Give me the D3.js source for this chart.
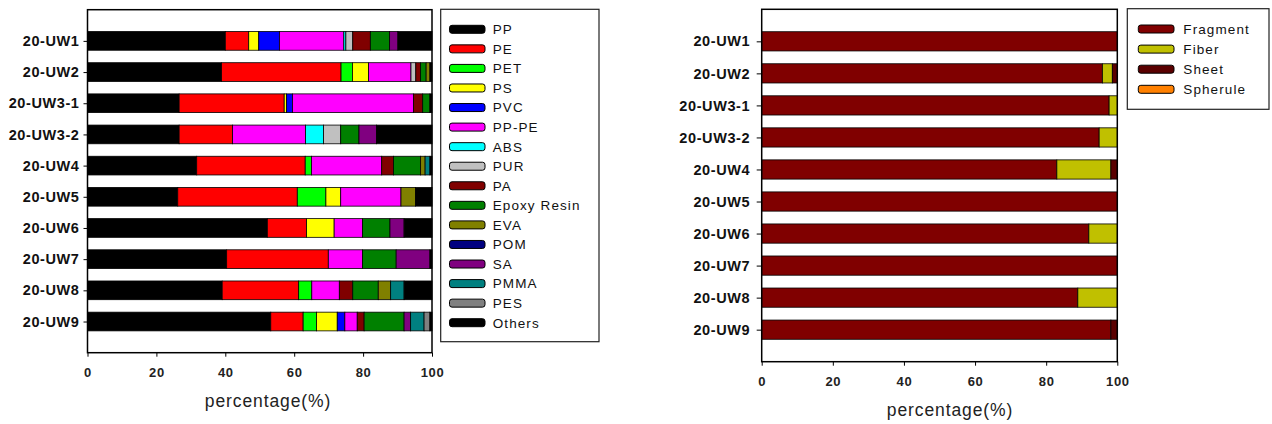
<!DOCTYPE html>
<html>
<head>
<meta charset="utf-8">
<script src="https://cdn.jsdelivr.net/npm/d3@7/dist/d3.min.js"></script>
<style>
  html, body { margin: 0; padding: 0; background: #fff; }
  svg { display: block; font-family: "Liberation Sans", Arial, sans-serif; }
</style>
</head>
<body>
<svg id="chart" width="1272" height="424"></svg>
<script>
// ---------------- DATA ----------------
const samples = ["20-UW1","20-UW2","20-UW3-1","20-UW3-2","20-UW4","20-UW5","20-UW6","20-UW7","20-UW8","20-UW9"];
const xTicks = [0, 20, 40, 60, 80, 100];

// Left chart: polymer composition (%)
const polymerNames = ["PP","PE","PET","PS","PVC","PP-PE","ABS","PUR","PA","Epoxy Resin","EVA","POM","SA","PMMA","PES","Others"];
const polymerColors = ["#000000","#ff0000","#00ff00","#ffff00","#0000ff","#ff00ff","#00ffff","#c0c0c0","#800000","#008000","#808000","#000080","#800080","#008080","#808080","#000000"];
const ppVals     = [40.0, 38.9, 26.6, 26.6, 31.7, 26.2, 52.2, 40.4, 39.1, 53.2];
const peVals     = [ 6.8, 34.7, 30.5, 15.5, 31.5, 34.7, 11.4, 29.5, 22.2,  9.4];
const petVals    = [ 0.0,  3.3,  0.0,  0.0,  1.8,  8.3,  0.0,  0.0,  3.8,  3.9];
const psVals     = [ 2.9,  4.7,  0.7,  0.0,  0.0,  4.3,  8.0,  0.0,  0.0,  6.0];
const pvcVals    = [ 6.0,  0.0,  1.7,  0.0,  0.0,  0.0,  0.0,  0.0,  0.0,  2.2];
const pppeVals   = [18.7, 12.3, 35.1, 21.2, 20.4, 17.5,  8.2,  9.9,  8.0,  3.6];
const absVals    = [ 0.6,  0.0,  0.0,  5.2,  0.0,  0.0,  0.0,  0.0,  0.0,  0.0];
const purVals    = [ 2.0,  1.4,  0.0,  5.0,  0.0,  0.0,  0.0,  0.0,  0.0,  0.0];
const paVals     = [ 5.1,  1.4,  2.7,  0.0,  3.4,  0.0,  0.0,  0.0,  3.9,  2.0];
const epoxyVals  = [ 5.6,  1.6,  2.1,  5.3,  7.9,  0.0,  8.0,  9.8,  7.4, 11.6];
const evaVals    = [ 0.0,  1.1,  0.0,  0.0,  1.3,  4.2,  0.0,  0.0,  3.6,  0.0];
const pomVals    = [ 0.0,  0.0,  0.0,  0.0,  0.0,  0.0,  0.0,  0.0,  0.0,  0.0];
const saVals     = [ 2.4,  0.0,  0.0,  5.1,  0.0,  0.0,  4.1,  9.8,  0.0,  1.9];
const pmmaVals   = [ 0.0,  0.0,  0.0,  0.0,  1.4,  0.0,  0.0,  0.0,  3.9,  3.9];
const pesVals    = [ 0.0,  0.0,  0.0,  0.0,  0.0,  0.0,  0.0,  0.0,  0.0,  1.7];
const othersVals = [ 9.9,  0.6,  0.6, 16.1,  0.6,  4.8,  8.1,  0.6,  8.1,  0.6];

// Right chart: shape composition (%)
const shapeNames = ["Fragment","Fiber","Sheet","Spherule"];
const shapeColors = ["#800000","#c0c000","#5a0000","#ff8000"];
const fragmentVals = [100.0, 95.8, 97.7, 94.9, 83.0, 100.0, 92.0, 100.0, 88.9, 98.2];
const fiberVals    = [  0.0,  2.8,  2.3,  5.1, 15.2,   0.0,  8.0,   0.0, 11.1,  0.0];
const sheetVals    = [  0.0,  1.4,  0.0,  0.0,  1.8,   0.0,  0.0,   0.0,  0.0,  1.8];
const spheruleVals = [  0.0,  0.0,  0.0,  0.0,  0.0,   0.0,  0.0,   0.0,  0.0,  0.0];

// ---------------- BUILD TABLES ----------------
const polymerSeries = [ppVals,peVals,petVals,psVals,pvcVals,pppeVals,absVals,purVals,paVals,epoxyVals,evaVals,pomVals,saVals,pmmaVals,pesVals,othersVals];
const shapeSeries = [fragmentVals,fiberVals,sheetVals,spheruleVals];

function table(names, series) {
  return samples.map((s, i) => {
    const row = { sample: s };
    names.forEach((n, k) => row[n] = series[k][i]);
    return row;
  });
}

const svg = d3.select("#chart");
svg.append("rect").attr("width", 1272).attr("height", 424).attr("fill", "#fff");

function drawPanel(cfg) {
  const { x0, x1, y0, y1, names, colors, series, labelRight, tickSize, tickPad, xLabY, titleX, titleY } = cfg;
  const data = table(names, series);
  const x = d3.scaleLinear().domain([0, 100]).range([x0, x1]);
  const y = d3.scalePoint().domain(samples).range([y0, y1]).padding(1);
  const bh = y.step() * 0.6;

  const stack = d3.stack().keys(names)(data);
  const g = svg.append("g");
  stack.forEach((layer, k) => {
    g.selectAll(null).data(layer.filter(d => d[1] - d[0] > 0)).enter().append("rect")
      .attr("x", d => x(d[0]))
      .attr("width", d => x(d[1]) - x(d[0]))
      .attr("y", d => y(d.data.sample) - bh / 2)
      .attr("height", bh)
      .attr("fill", colors[k])
      .attr("stroke", "#000")
      .attr("stroke-width", 0.8);
  });

  // frame
  svg.append("rect").attr("x", x0).attr("y", y0).attr("width", x1 - x0).attr("height", y1 - y0)
    .attr("fill", "none").attr("stroke", "#000").attr("stroke-width", 1.5);

  // y axis
  const ya = svg.append("g").attr("transform", `translate(${x0},0)`)
    .call(d3.axisLeft(y).tickSize(tickSize).tickPadding(tickPad));
  ya.select(".domain").remove();
  ya.selectAll(".tick line").attr("stroke", "#000").attr("stroke-width", 1);
  ya.selectAll(".tick text").attr("font-size", 14.5).attr("font-weight", "bold")
    .attr("fill", "#111").attr("letter-spacing", 0.6)
    .attr("font-family", "'Liberation Sans', Arial, sans-serif");

  // x axis
  const xa = svg.append("g").attr("transform", `translate(0,${y1})`)
    .call(d3.axisBottom(x).tickValues(xTicks).tickFormat(d3.format("d")).tickSize(4));
  xa.select(".domain").remove();
  xa.selectAll(".tick line").attr("stroke", "#000").attr("stroke-width", 1);
  xa.selectAll(".tick text").attr("y", xLabY).attr("dy", "0.35em")
    .attr("font-size", 13).attr("font-weight", "bold").attr("fill", "#222")
    .attr("letter-spacing", 0.6)
    .attr("font-family", "'Liberation Sans', Arial, sans-serif");

  svg.append("text").attr("x", titleX).attr("y", titleY).attr("dy", "0.35em")
    .attr("text-anchor", "middle").attr("font-size", 17.5).attr("letter-spacing", 0.9)
    .attr("fill", "#222").text("percentage(%)");
}

function drawLegend(cfg) {
  const { bx0, by0, bx1, by1, names, colors, swX, swW, firstY, rowH, textX } = cfg;
  svg.append("rect").attr("x", bx0).attr("y", by0).attr("width", bx1 - bx0).attr("height", by1 - by0)
    .attr("fill", "#fff").attr("stroke", "#222").attr("stroke-width", 1.2);
  const ly = d3.scalePoint().domain(names).range([firstY, firstY + rowH * (names.length - 1)]);
  const items = svg.append("g").selectAll("g").data(names).enter().append("g")
    .attr("transform", d => `translate(0,${ly(d)})`);
  items.append("rect").attr("x", swX).attr("y", -4).attr("width", swW).attr("height", 8)
    .attr("rx", 2.5).attr("fill", (d, i) => colors[i]).attr("stroke", "#000").attr("stroke-width", 1);
  items.append("text").attr("x", textX).attr("dy", "0.36em").attr("font-size", 13.5)
    .attr("letter-spacing", 1.1).attr("fill", "#111").text(d => d);
}

drawPanel({
  x0: 87.5, x1: 432, y0: 9.7, y1: 352.7,
  names: polymerNames, colors: polymerColors, series: polymerSeries,
  tickSize: 4, tickPad: 4, xLabY: 19.6, titleX: 268, titleY: 400.7
});
drawLegend({
  bx0: 440.7, by0: 9.3, bx1: 599, by1: 341.7,
  names: polymerNames, colors: polymerColors,
  swX: 449.5, swW: 35.5, firstY: 29.3, rowH: 19.56, textX: 492.7
});

drawPanel({
  x0: 761.7, x1: 1117.3, y0: 9.3, y1: 361.7,
  names: shapeNames, colors: shapeColors, series: shapeSeries,
  tickSize: 5, tickPad: 6.5, xLabY: 20, titleX: 950, titleY: 410
});
drawLegend({
  bx0: 1127.3, by0: 8.7, bx1: 1269, by1: 109.3,
  names: shapeNames, colors: shapeColors,
  swX: 1138.3, swW: 35.7, firstY: 29, rowH: 20.1, textX: 1183.3
});
</script>
</body>
</html>
